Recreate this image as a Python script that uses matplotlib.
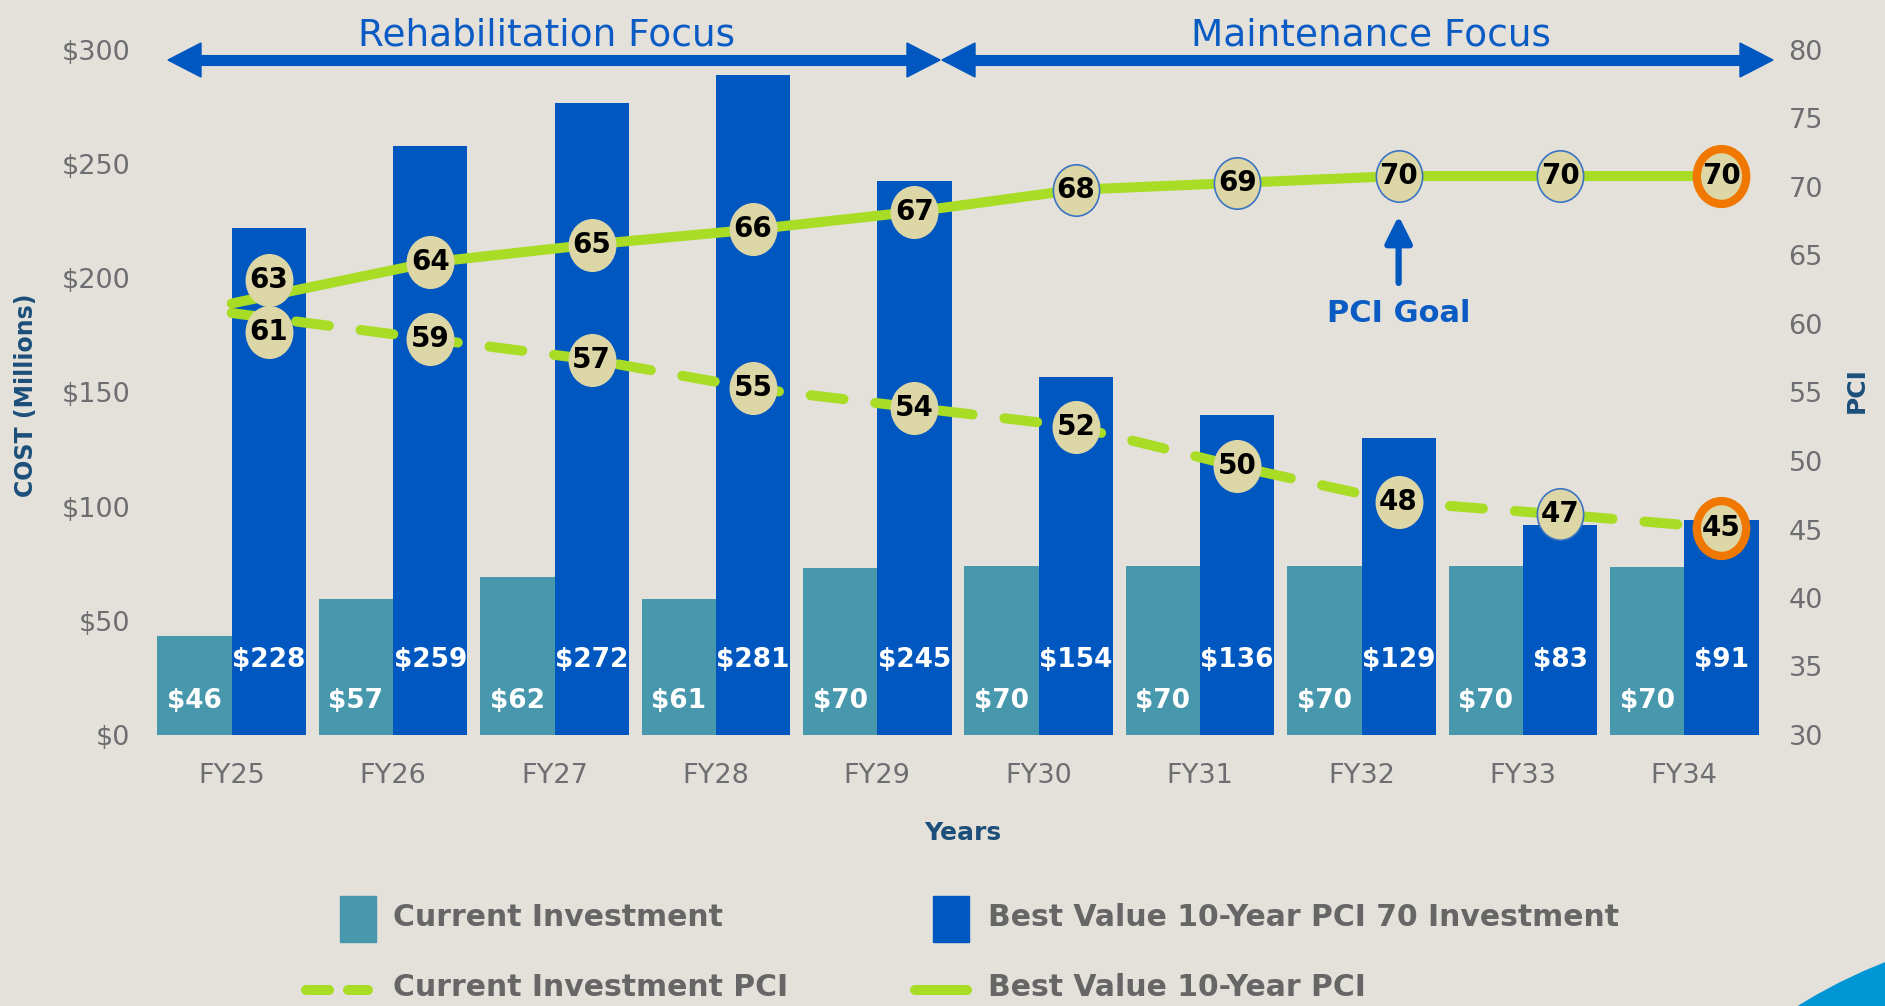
import numpy as np
import matplotlib.pyplot as plt
from matplotlib.path import Path
from matplotlib.transforms import Affine2D
from matplotlib.patches import Rectangle, Ellipse, Polygon
from matplotlib.lines import Line2D

# ---- data ----
years = ["FY25", "FY26", "FY27", "FY28", "FY29", "FY30", "FY31", "FY32", "FY33", "FY34"]

# bar heights as drawn ($M) and the value labels printed on them
current_cost = [43.5, 59.5, 69, 59.5, 73, 74, 74, 74, 74, 73.5]
best_cost = [222, 258, 277, 289, 242.5, 157, 140, 130, 92, 94]
current_cost_lbl = [46, 57, 62, 61, 70, 70, 70, 70, 70, 70]
best_cost_lbl = [228, 259, 272, 281, 245, 154, 136, 129, 83, 91]

# PCI values printed in the bubbles and where the lines sit on the PCI axis
best_pci = [63, 64, 65, 66, 67, 68, 69, 70, 70, 70]
current_pci = [61, 59, 57, 55, 54, 52, 50, 48, 47, 45]
best_pci_line = [61.5, 64.5, 65.8, 66.9, 68.2, 69.8, 70.3, 70.8, 70.8, 70.8]
current_pci_line = [60.8, 58.9, 57.4, 55.3, 53.9, 52.5, 49.6, 47.0, 46.1, 45.1]
best_pci_bubble = [63.2] + best_pci_line[1:]
current_pci_bubble = [59.4] + current_pci_line[1:]

# ---- style ----
BG = "#E4E0DA"
TEAL = "#4797AD"
BLUE = "#0057C0"
LIME = "#A9DC24"
TAN = "#DDD6A6"
ORANGE = "#F07800"
DARK = "#1B4F7A"
ANNO = "#0A5BC4"
GRAY = "#6D6E71"
LEG = "#666666"

W, H = 1885, 1006


def fxy(px, py):
    # pixel position (top-left origin) -> figure fraction
    return px / W, 1 - py / H


fig = plt.figure(figsize=(W / 100, H / 100), dpi=100, facecolor=BG)
l, b = fxy(151, 735)
ax = fig.add_axes([l, b, (1765 - 151) / W, (735 - 50) / H])
ax.set_facecolor("none")
ax2 = ax.twinx()

x = np.arange(len(years))
bw = 0.46
ax.bar(x - bw / 2, current_cost, bw, color=TEAL, zorder=2)
ax.bar(x + bw / 2, best_cost, bw, color=BLUE, zorder=2)

for i in x:
    ax.text(i - bw / 2, 15, f"${current_cost_lbl[i]}", ha="center", va="center",
            color="white", fontsize=19, fontweight="bold", zorder=3)
    ax.text(i + bw / 2, 33, f"${best_cost_lbl[i]}", ha="center", va="center",
            color="white", fontsize=19, fontweight="bold", zorder=3)

ax.set_xlim(-0.5, 9.5)
ax.set_ylim(0, 300)
ax.set_yticks(range(0, 301, 50))
ax.set_yticklabels([f"${v}" for v in range(0, 301, 50)])
ax.set_xticks(x)
ax.set_xticklabels(years)
ax2.set_ylim(30, 80)
ax2.set_yticks(range(30, 81, 5))

for a in (ax, ax2):
    for s in a.spines.values():
        s.set_visible(False)
ax.tick_params(axis="y", length=0, pad=15, labelsize=19.5, labelcolor=GRAY)
ax.tick_params(axis="x", length=0, pad=20, labelsize=19.5, labelcolor=GRAY)
ax2.tick_params(axis="y", length=0, pad=17, labelsize=19.5, labelcolor=GRAY)

# PCI lines: start at the FY25 category, then run through the bubbles
line_x = (x + bw / 2.0).astype(float)
line_x[0] = x[0]
ax2.plot(line_x, best_pci_line, color=LIME, lw=7.2, solid_capstyle="round", zorder=3)
ax2.plot(line_x, current_pci_line, color=LIME, lw=7.2, dashes=(3.3, 3.2),
         dash_capstyle="round", zorder=3)

ell = Affine2D().scale(0.9, 1.0).transform_path(Path.unit_circle())
outlined_best = {5, 6, 7, 8}
outlined_cur = {8}
bx = x + bw / 2
for vals, ys, outl in ((best_pci, best_pci_bubble, outlined_best),
                       (current_pci, current_pci_bubble, outlined_cur)):
    for i, (v, yv) in enumerate(zip(vals, ys)):
        if i == len(vals) - 1:
            ax2.plot(bx[i], yv, marker=ell, ms=39.5, mfc=TAN, mec=ORANGE, mew=6,
                     ls="none", zorder=4)
        else:
            ax2.plot(bx[i], yv, marker=ell, ms=37, mfc=TAN,
                     mec="#3A74C4" if i in outl else TAN, mew=1.2, ls="none", zorder=4)
        ax2.text(bx[i], yv, str(v), ha="center", va="center", fontsize=20,
                 fontweight="bold", color="black", zorder=5)

# PCI goal pointer
ax2.annotate("", xy=(bx[7], 67.9), xytext=(bx[7], 63.0),
             arrowprops=dict(arrowstyle="-|>,head_length=0.9,head_width=0.45",
                             color=BLUE, lw=4.5, shrinkA=0, shrinkB=0,
                             mutation_scale=18), zorder=5)
ax2.text(bx[7], 60.8, "PCI Goal", ha="center", va="center", fontsize=22,
         fontweight="bold", color=ANNO)


# focus arrows across the top
def hbar_arrow(x0, x1, y):
    hl, hw = 33, 17
    fig.add_artist(Line2D([fxy(x0 + hl - 2, y)[0], fxy(x1 - hl + 2, y)[0]],
                          [fxy(0, y)[1]] * 2, lw=8, color=BLUE,
                          transform=fig.transFigure, solid_capstyle="butt"))
    for tip, base in ((x0, x0 + hl), (x1, x1 - hl)):
        pts = [fxy(tip, y), fxy(base, y - hw), fxy(base, y + hw)]
        fig.add_artist(Polygon(pts, closed=True, color=BLUE, transform=fig.transFigure))


hbar_arrow(168, 940, 60)
hbar_arrow(942, 1773, 60)
fig.text(*fxy(547, 35), "Rehabilitation Focus", ha="center", va="center",
         fontsize=27, color=ANNO)
fig.text(*fxy(1371, 36), "Maintenance Focus", ha="center", va="center",
         fontsize=27, color=ANNO)

# axis titles
fig.text(*fxy(963, 833), "Years", ha="center", va="center", fontsize=18,
         fontweight="bold", color=DARK)
fig.text(*fxy(26, 395), "COST (Millions)", ha="center", va="center", fontsize=17,
         fontweight="bold", color=DARK, rotation=90)
fig.text(*fxy(1857, 390), "PCI", ha="center", va="center", fontsize=18,
         fontweight="bold", color=DARK, rotation=90)

# legend, built by hand to match the two-row layout
for x0, col in ((340, TEAL), (933, BLUE)):
    fig.add_artist(Rectangle(fxy(x0, 942), 36 / W, 46 / H, color=col,
                             transform=fig.transFigure))
leg_kw = dict(va="center", fontsize=21.5, fontweight="bold", color=LEG)
fig.text(*fxy(393, 918), "Current Investment", **leg_kw)
fig.text(*fxy(988, 918), "Best Value 10-Year PCI 70 Investment", **leg_kw)
for a0, a1 in ((306, 329), (348, 368), (915, 967)):
    fig.add_artist(Line2D([a0 / W, a1 / W], [fxy(0, 990)[1]] * 2, lw=7.2, color=LIME,
                          solid_capstyle="round", transform=fig.transFigure))
fig.text(*fxy(393, 988), "Current Investment PCI", **leg_kw)
fig.text(*fxy(988, 988), "Best Value 10-Year PCI", **leg_kw)

# corner swoosh
fig.add_artist(Ellipse(fxy(2080, 1460), 2 * 534 / W, 2 * 534 / H, color="#0096D6",
                       transform=fig.transFigure))

fig.savefig("out.png", dpi=100, facecolor=BG)
